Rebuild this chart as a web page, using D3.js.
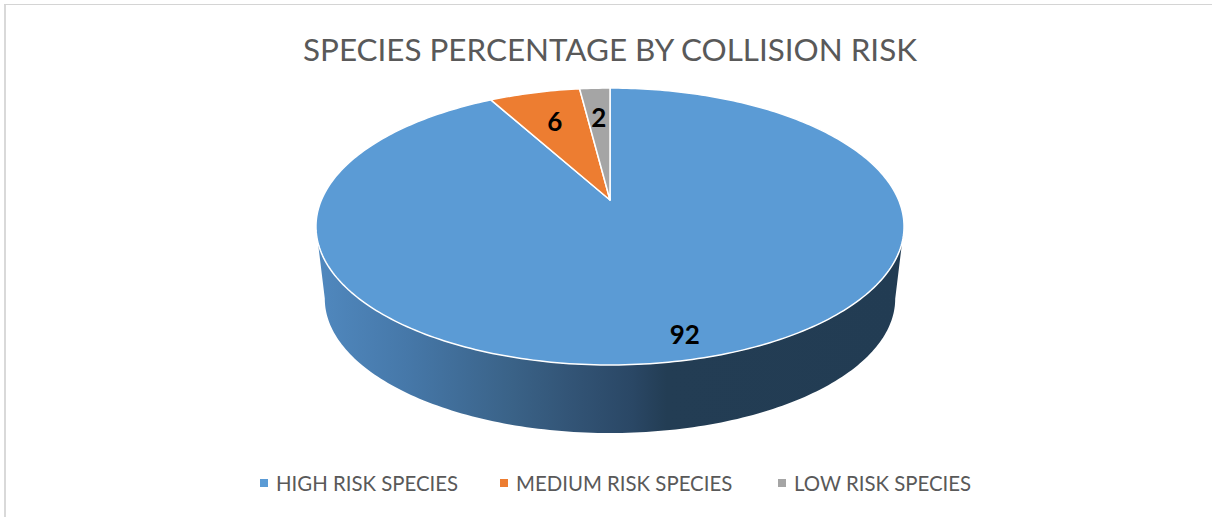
<!DOCTYPE html>
<html lang="en">
<head>
  <meta charset="UTF-8">
  <title>Species percentage by collision risk</title>
  <script src="https://d3js.org/d3.v7.min.js"></script>
  <style>
    * { margin: 0; padding: 0; box-sizing: border-box; }
    body { background: white; font-family: Lato, "Open Sans", sans-serif; }
    svg { display: block; }
  </style>
</head>
<body>
  <div id="chart"></div>
  <script>
    const titleText = "SPECIES PERCENTAGE BY COLLISION RISK";
    const categories = ["HIGH RISK SPECIES", "MEDIUM RISK SPECIES", "LOW RISK SPECIES"];
    const values = [92, 6, 2];
    const colors = ["#5b9bd5", "#ed7d31", "#a5a5a5"];

    const width = 1212, height = 517;
    const cx = 610, cy = 200;

    const svg = d3.select("#chart").append("svg")
      .attr("width", width)
      .attr("height", height);

    // chart frame, only top and left show in the crop
    svg.append("rect").attr("x", 4).attr("y", 4).attr("width", 2).attr("height", 513).attr("fill", "#d9d9d9");
    svg.append("rect").attr("x", 4).attr("y", 4).attr("width", 1208).attr("height", 1).attr("fill", "#d4d4d4");

    svg.append("text")
      .attr("x", cx)
      .attr("y", 61)
      .attr("text-anchor", "middle")
      .style("font-size", "31.4px")
      .style("fill", "#595959")
      .text(titleText);

    // perspective projection of the disc: v=-1 is back, v=1 is front
    const k = -0.1913;
    function topPoint(a) {
      const u = Math.sin(a), v = -Math.cos(a), w = 1 + k * v;
      return [cx + 288.6 * u / w, cy + 133.4 * v / w];
    }
    function basePoint(a) {
      const p = topPoint(a);
      return [cx + (p[0] - cx) * 0.97, 273 + (p[1] - cy) * 0.97];
    }

    const pie = d3.pie().sort(null)(values);
    const line = d3.line();
    const step = Math.PI / 180;

    // wall: front of the rim down to the base, between the widest points
    const grad = svg.append("defs").append("linearGradient")
      .attr("id", "wall")
      .attr("gradientUnits", "userSpaceOnUse")
      .attr("x1", 318).attr("x2", 904)
      .attr("y1", 0).attr("y2", 0);
    [[0, "#5088be"], [0.15, "#4678a9"], [0.333, "#3a6287"], [0.425, "#335577"], [0.537, "#2a4765"], [0.595, "#233d54"], [1, "#223c53"]]
      .forEach(s => grad.append("stop").attr("offset", s[0]).attr("stop-color", s[1]));

    const widest = Math.acos(k);
    const rimAngles = d3.range(widest, 2 * Math.PI - widest + step / 2, step);
    const wallPts = rimAngles.map(topPoint).concat(rimAngles.slice().reverse().map(basePoint));
    svg.append("path")
      .attr("d", line(wallPts) + "Z")
      .attr("fill", "url(#wall)");

    // top face
    svg.selectAll(".slice")
      .data(pie)
      .enter()
      .append("path")
      .attr("class", "slice")
      .attr("d", d => {
        const pts = [[cx, cy]];
        const n = Math.max(2, Math.ceil((d.endAngle - d.startAngle) / step));
        for (let i = 0; i <= n; i++) pts.push(topPoint(d.startAngle + (d.endAngle - d.startAngle) * i / n));
        return line(pts) + "Z";
      })
      .attr("fill", (d, i) => colors[i])
      .attr("stroke", "white")
      .attr("stroke-width", 1.5)
      .attr("stroke-linejoin", "round");

    // data labels sit at a fraction of the radius along the slice's mid angle
    const labelFraction = d => d.data > 50 ? 0.85 : 0.73;
    svg.selectAll(".label")
      .data(pie)
      .enter()
      .append("text")
      .attr("class", "label")
      .attr("x", d => cx + (topPoint((d.startAngle + d.endAngle) / 2)[0] - cx) * labelFraction(d))
      .attr("y", d => cy + (topPoint((d.startAngle + d.endAngle) / 2)[1] - cy) * labelFraction(d) + 9)
      .attr("text-anchor", "middle")
      .style("font-size", "26px")
      .style("font-weight", "bold")
      .style("fill", "#000")
      .text(d => d.data);

    // legend
    const legendX = [260, 500, 778];
    const legend = svg.selectAll(".legend")
      .data(categories)
      .enter()
      .append("g")
      .attr("class", "legend")
      .attr("transform", (d, i) => `translate(${legendX[i]},483)`);
    legend.append("rect")
      .attr("x", 0).attr("y", -4)
      .attr("width", 8).attr("height", 8)
      .attr("fill", (d, i) => colors[i]);
    legend.append("text")
      .attr("x", 16).attr("y", 7.5)
      .style("font-size", "20.4px")
      .style("fill", "#595959")
      .text(d => d);
  </script>
</body>
</html>
